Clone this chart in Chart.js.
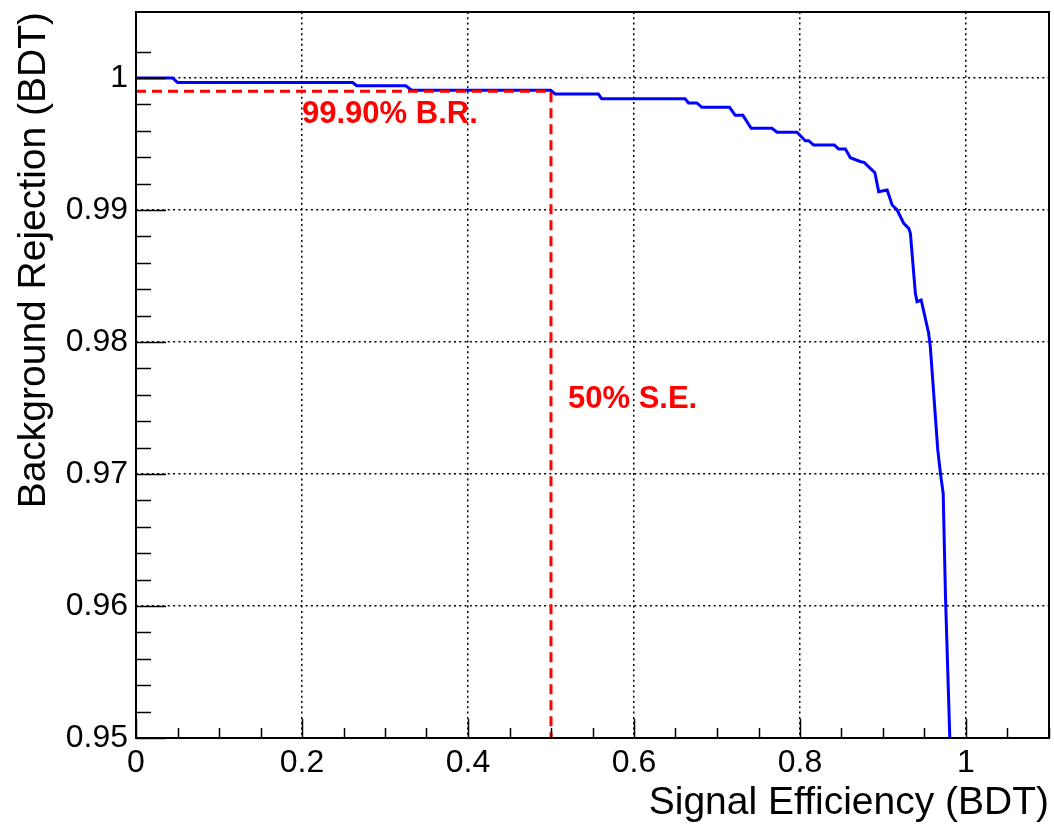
<!DOCTYPE html>
<html>
<head>
<meta charset="utf-8">
<style>
  html, body { margin: 0; padding: 0; background: #fff; }
  #wrap { width: 1054px; height: 827px; }
</style>
<script src="https://cdn.jsdelivr.net/npm/chart.js@4.4.0/dist/chart.umd.min.js"></script>
</head>
<body>
<div id="wrap"><canvas id="roc" width="1054" height="827"></canvas></div>
<script>
// ROC curve
const sigEff = [0, 0.044, 0.050, 0.261, 0.266, 0.325, 0.332, 0.4996, 0.505, 0.557, 0.561,
    0.6616, 0.6656, 0.6757, 0.6818, 0.7151, 0.722, 0.7312, 0.7412, 0.7662, 0.7723, 0.7964,
    0.8064, 0.8104, 0.8164, 0.8414, 0.8466, 0.8547, 0.8607, 0.8733, 0.8773, 0.8902, 0.8948,
    0.905, 0.911, 0.917, 0.925, 0.931, 0.933, 0.939, 0.941, 0.946, 0.955, 0.957, 0.966,
    0.9692, 0.9725, 0.9753, 0.9805];
const bkgRej = [1.0, 1.0, 0.99966, 0.99966, 0.99941, 0.99941, 0.99907, 0.99907, 0.99879, 0.99879, 0.99843,
    0.99843, 0.99811, 0.99811, 0.99778, 0.99778, 0.99717, 0.99717, 0.99619, 0.99619, 0.99589, 0.99589,
    0.99525, 0.99525, 0.99492, 0.99492, 0.99462, 0.99462, 0.99396, 0.99366, 0.99361, 0.99283, 0.99139,
    0.99152, 0.99038, 0.99, 0.98899, 0.98861, 0.98823, 0.98369, 0.98305, 0.98318, 0.98066, 0.97964, 0.97182,
    0.97005, 0.96854, 0.96070, 0.95];

// working point: 50% signal efficiency, 99.90% background rejection
const cutX = [0, 0.5, 0.5];
const cutY = [0.999, 0.999, 0.95];

const xTitle = 'Signal Efficiency (BDT)';
const yTitle = 'Background Rejection (BDT)';
const brLabel = '99.90% B.R.';
const seLabel = '50% S.E.';

const FONT = '"Liberation Sans", Arial, Helvetica, sans-serif';

function isMult(v, step) {
    const r = v / step;
    return Math.abs(r - Math.round(r)) < 1e-6;
}
function fmt(v) {
    return String(Math.round(v * 100) / 100);
}

// ROOT-like frame: box, inward tick marks, titles and the two red notes
const rootFrame = {
    id: 'rootFrame',
    afterDraw(chart) {
        const ctx = chart.ctx;
        const a = chart.chartArea;
        const xs = chart.scales.x;
        const ys = chart.scales.y;
        ctx.save();
        ctx.strokeStyle = '#000';
        ctx.lineWidth = 1.5;
        ctx.beginPath();
        xs.ticks.forEach(t => {
            if (!isMult(t.value, 0.05)) return;
            const px = Math.round(xs.getPixelForValue(t.value)) + 0.5;
            const len = isMult(t.value, 0.2) ? 19 : 10;
            ctx.moveTo(px, a.bottom);
            ctx.lineTo(px, a.bottom - len);
        });
        ys.ticks.forEach(t => {
            if (!isMult(t.value, 0.002)) return;
            const py = Math.round(ys.getPixelForValue(t.value)) + 0.5;
            const len = isMult(t.value, 0.01) ? 30 : 15;
            ctx.moveTo(a.left, py);
            ctx.lineTo(a.left + len, py);
        });
        ctx.stroke();

        ctx.lineWidth = 2;
        ctx.strokeRect(a.left, a.top, a.right - a.left, a.bottom - a.top);

        // axis titles, right aligned at the axis end like ROOT
        ctx.fillStyle = '#000';
        ctx.font = '39px ' + FONT;
        ctx.textAlign = 'right';
        ctx.textBaseline = 'alphabetic';
        ctx.fillText(xTitle, a.right, 814);
        ctx.save();
        ctx.translate(45, a.top);
        ctx.rotate(-Math.PI / 2);
        ctx.fillText(yTitle, 0, 0);
        ctx.restore();

        // working point notes
        ctx.fillStyle = '#ff0000';
        ctx.font = 'bold 31px ' + FONT;
        ctx.textAlign = 'left';
        ctx.fillText(brLabel, xs.getPixelForValue(0.2), ys.getPixelForValue(0.9966));
        ctx.fillText(seLabel, xs.getPixelForValue(0.5) + 17, ys.getPixelForValue(0.975));
        ctx.restore();
    }
};

const ctx = document.getElementById('roc');
new Chart(ctx, {
    type: 'scatter',
    data: {
        datasets: [
            {
                label: 'cut',
                data: cutX.map((x, i) => ({ x, y: cutY[i] })),
                showLine: true,
                borderColor: '#ff0000',
                borderWidth: 3,
                borderDash: [10, 6],
                pointRadius: 0,
                order: 0
            },
            {
                label: 'ROC',
                data: sigEff.map((x, i) => ({ x, y: bkgRej[i] })),
                showLine: true,
                borderColor: '#0000ff',
                borderWidth: 3,
                pointRadius: 0,
                tension: 0,
                order: 1
            }
        ]
    },
    options: {
        responsive: false,
        animation: false,
        devicePixelRatio: 1,
        layout: { padding: { left: 0, right: 5, top: 12, bottom: 0 } },
        plugins: {
            legend: { display: false },
            tooltip: { enabled: false }
        },
        scales: {
            x: {
                type: 'linear',
                min: 0,
                max: 1.1,
                afterFit: (s) => { s.height = 89; s.paddingLeft = 0; s.paddingRight = 0; },
                ticks: {
                    stepSize: 0.05,
                    autoSkip: false,
                    maxRotation: 0,
                    maxTicksLimit: 100,
                    padding: 6,
                    color: '#000',
                    font: { family: FONT, size: 32 },
                    callback: (v) => isMult(v, 0.2) ? fmt(v) : ''
                },
                grid: {
                    drawTicks: false,
                    lineWidth: 1.5,
                    color: (c) => (c.tick && isMult(c.tick.value, 0.2)) ? '#000' : 'rgba(0,0,0,0)'
                },
                border: { display: false, dash: [2, 3.3] }
            },
            y: {
                type: 'linear',
                min: 0.95,
                max: 1.005,
                afterFit: (s) => { s.width = 136; s.paddingTop = 0; s.paddingBottom = 0; },
                ticks: {
                    stepSize: 0.002,
                    autoSkip: false,
                    maxTicksLimit: 100,
                    padding: 8,
                    color: '#000',
                    font: { family: FONT, size: 32 },
                    callback: (v) => isMult(v, 0.01) ? fmt(v) : ''
                },
                grid: {
                    drawTicks: false,
                    lineWidth: 1.5,
                    color: (c) => (c.tick && isMult(c.tick.value, 0.01)) ? '#000' : 'rgba(0,0,0,0)'
                },
                border: { display: false, dash: [2, 3.3] }
            }
        }
    },
    plugins: [rootFrame]
});
</script>
</body>
</html>
